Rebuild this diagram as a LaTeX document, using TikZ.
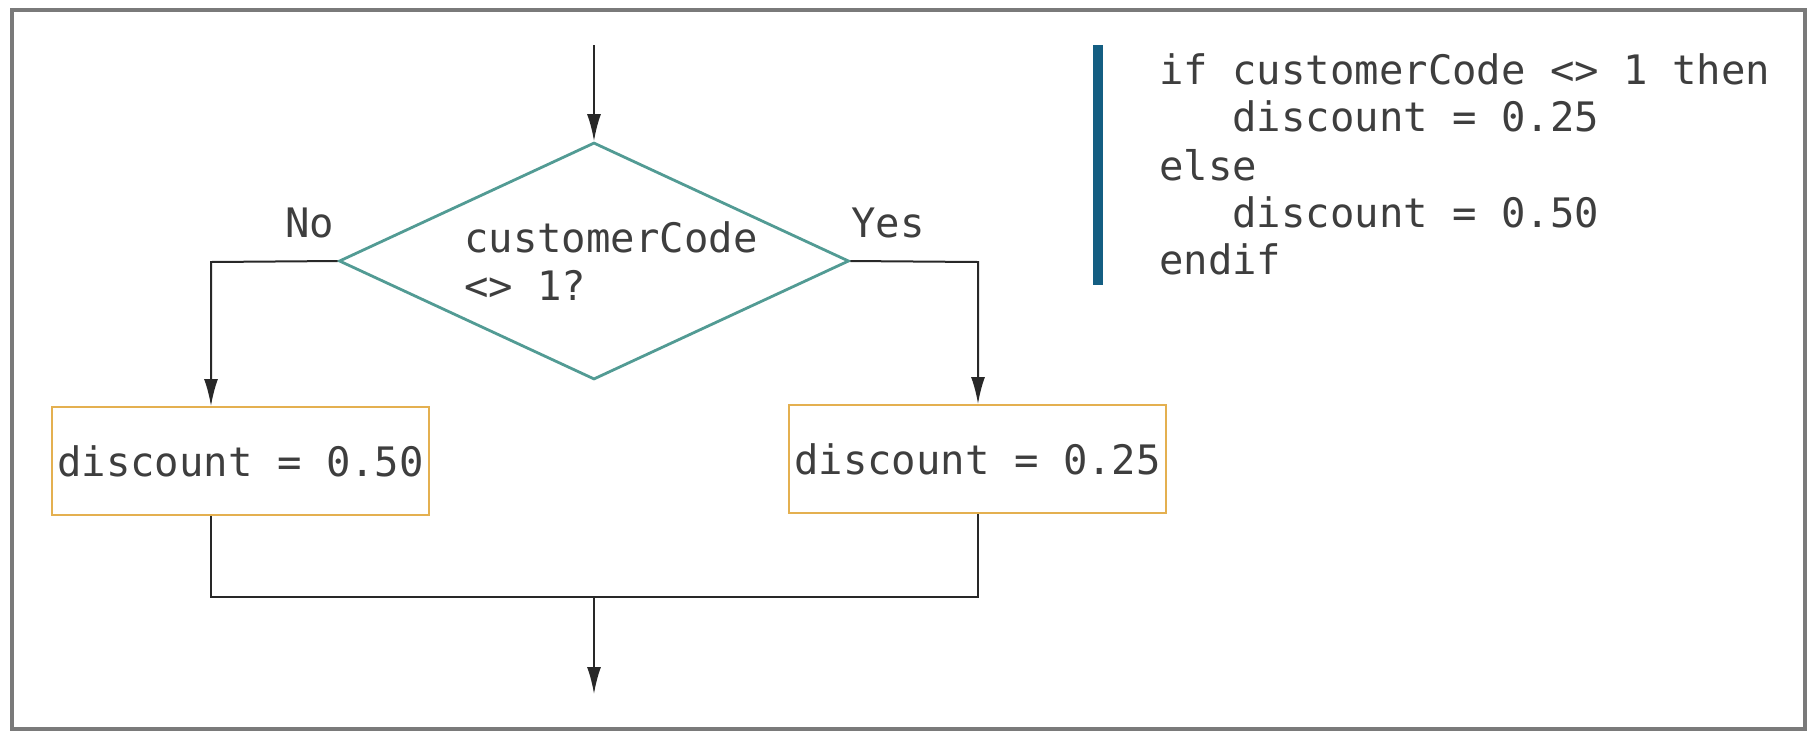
\documentclass[tikz,border=0pt]{standalone}
\usepackage{fontspec}
\newfontfamily\codefont{DejaVu Sans Mono}
\usetikzlibrary{shapes.geometric,arrows.meta}

\definecolor{framegray}{RGB}{122,122,122}
\definecolor{txtgray}{RGB}{62,62,62}
\definecolor{linegray}{RGB}{40,40,40}
\definecolor{decteal}{RGB}{82,155,148}
\definecolor{procorange}{RGB}{228,176,80}
\definecolor{barblue}{RGB}{20,94,130}

\tikzset{
  codetext/.style={font=\codefont\fontsize{40.6}{48}\selectfont, text=txtgray, inner sep=0pt},
  conn/.style={draw=linegray, line width=2pt},
  arr/.style={conn, -{Latex[length=27pt,width=14pt]}},
  decision/.style={diamond, draw=decteal, line width=2.8pt, minimum width=510pt,
    minimum height=237pt, inner sep=0pt},
  process/.style={rectangle, draw=procorange, line width=2pt, minimum width=377pt,
    minimum height=108pt, codetext},
  codeline/.style={codetext, anchor=base west},
}

\begin{document}
\begin{tikzpicture}[x=1pt,y=-1pt]
  \useasboundingbox (0,0) rectangle (1812,732);
  % outer frame
  \draw[framegray, line width=4pt] (11.5,9.5) rectangle (1805,729);

  % decision and the two assignments
  \node[decision] (dec) at (594,261) {};
  \node[codeline] (dtxt1) at (464,252) {customerCode};
  \node[codeline] (dtxt2) at (464,300) {<> 1?};
  \node[codeline] (nolbl) at (285,237) {No};
  \node[codeline] (yeslbl) at (851,237) {Yes};

  \node[process] (lbox) at (240.5,461) {discount = 0.50};
  \node[process] (rbox) at (977.5,459) {discount = 0.25};

  % connector points
  \coordinate (entry) at (594,45);
  \coordinate (lturn) at (211,262);
  \coordinate (rturn) at (978,262);
  \coordinate (ljoin) at (211,597);
  \coordinate (rjoin) at (978,597);
  \coordinate (merge) at (594,597);
  \coordinate (exit) at (594,694);

  \draw[arr] (entry) -- (dec.north);
  \draw[arr] (dec.west) -- (lturn) -- (lturn |- lbox.north);
  \draw[arr] (dec.east) -- (rturn) -- (rturn |- rbox.north);
  \draw[conn] (lturn |- lbox.south) -- (ljoin) -- (rjoin) -- (rturn |- rbox.south);
  \draw[arr] (merge) -- (exit);

  % pseudocode with its side bar
  \coordinate (bartop) at (1098,45);
  \coordinate (barbot) at (1098,285);
  \draw[barblue, line width=10pt] (bartop) -- (barbot);

  \node[codeline] (c1) at (1159,84) {if customerCode <> 1 then};
  \node[codeline] (c2) at (1159,131) {\phantom{xxx}discount = 0.25};
  \node[codeline] (c3) at (1159,180) {else};
  \node[codeline] (c4) at (1159,227) {\phantom{xxx}discount = 0.50};
  \node[codeline] (c5) at (1159,274) {endif};
\end{tikzpicture}
\end{document}
